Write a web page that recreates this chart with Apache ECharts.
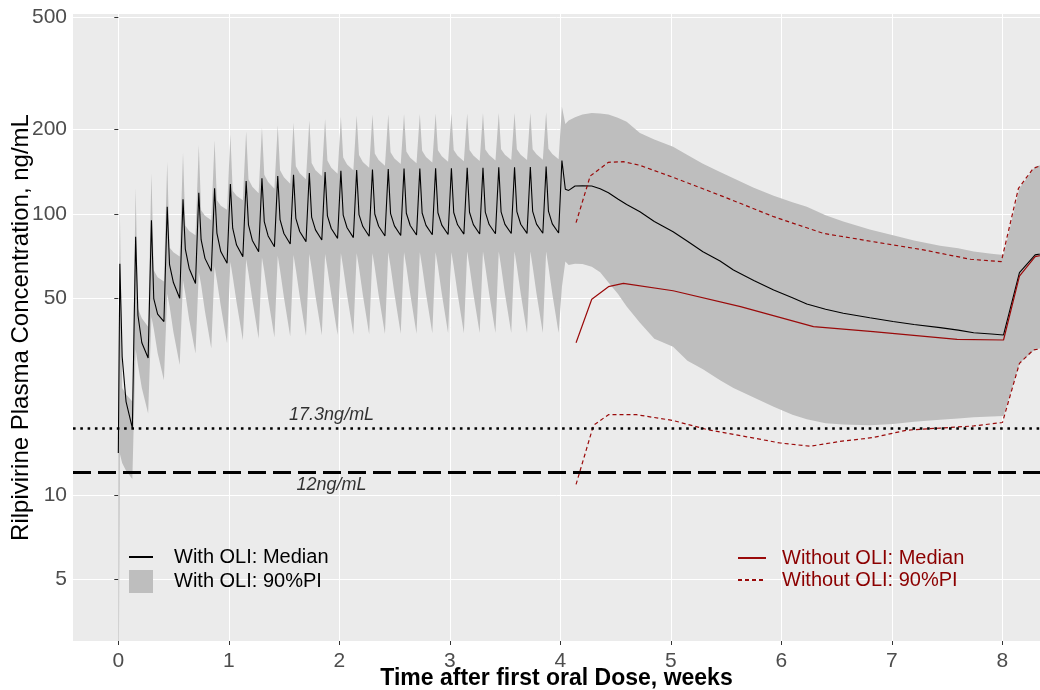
<!DOCTYPE html>
<html>
<head>
<meta charset="utf-8">
<script src="https://cdn.jsdelivr.net/npm/echarts@6/dist/echarts.min.js"></script>
<style>
html,body{margin:0;padding:0;background:#fff;}
#chart{width:1040px;height:690px;}
</style>
</head>
<body>
<div id="chart"></div>
<script>
// ---------- tick labels ----------
const xTicks = [0, 1, 2, 3, 4, 5, 6, 7, 8];
const yTicks = [5, 10, 50, 100, 200, 500];

// ---------- oral lead-in phase (daily doses, 28 cycles) ----------
const dosesPerWeek = 7;
const cycleOffsets = [0.014, 0.035, 0.07, 0.127]; // sample times within a daily cycle (weeks)
const start = { t: 0, med: 14.1, up: 24, lo: 1 };
// With OLI median: peak, early decline, late decline, trough
const medP  = [66.5, 83, 95, 106, 112.8, 119, 123.4, 127.9, 131, 134, 136.5, 138, 140, 141, 142.6, 143.5, 144, 144.5, 145, 145, 145.5, 145.5, 146, 146, 146.5, 146.5, 147, 147.4];
const medM1 = [31, 43.5, 50, 66, 75, 81, 85.5, 89, 91.5, 94, 95.5, 96.5, 97.5, 98.5, 99, 99.5, 100, 100.3, 100.6, 100.8, 101, 101.2, 101.4, 101.6, 101.8, 102, 102.2, 102.4];
const medM2 = [21.5, 34.8, 44, 57, 64, 69.5, 73.5, 77.5, 80.5, 83.5, 85.2, 86.6, 87.8, 88.8, 89.3, 90.2, 90.4, 90.7, 91, 91.1, 91.3, 91.5, 91.6, 91.7, 91.8, 91.9, 92, 92.2];
const medT  = [17.3, 30.7, 41.4, 50.1, 56.6, 62.5, 66.8, 70.5, 73.4, 76.5, 78.2, 79.7, 80.8, 81.9, 82.4, 83.3, 83.5, 83.8, 84.2, 84.3, 84.5, 84.8, 84.9, 85, 85.2, 85.3, 85.4, 85.6];
// With OLI 90% PI upper bound
const upP  = [103.9, 123.9, 140, 153.5, 165, 176, 183, 192, 197, 203, 207, 211, 215, 218, 222, 224, 226, 226, 227, 227, 228, 228, 228, 229, 229, 229, 229, 230];
const upM1 = [24, 46, 63, 76, 91, 103, 112, 121, 133, 138, 143, 148, 152, 155, 159, 162, 164, 166, 167, 168, 168.5, 169, 169, 169.5, 170, 170, 170, 170.5];
const upM2 = [22.8, 42.5, 59.5, 73, 87, 98.5, 107, 116, 125, 130, 135, 139.5, 143, 146, 150, 153, 155.5, 157.5, 158.5, 159.5, 160.5, 161, 161.5, 162, 162.5, 162.5, 163, 163.5];
const upT  = [21.5, 39.7, 57.5, 70.5, 84, 95, 103.5, 112, 118.5, 123, 128, 133, 136.5, 139, 143, 146, 148.5, 150.5, 151.5, 152.5, 153.5, 154, 154.5, 155, 155.5, 155.5, 156, 156.5];
// With OLI 90% PI lower bound
const loP  = [14, 33, 43, 52, 58, 62, 65, 67.5, 69, 70, 71, 71.5, 72, 72, 72.5, 72.5, 72.5, 73, 73, 73, 73, 73, 73.5, 73.5, 73.5, 73.5, 73.5, 73.5];
const loM1 = [13, 29, 39, 47, 52, 56, 58, 60, 61.5, 62.5, 63, 63.5, 64, 64, 64.5, 64.5, 64.5, 65, 65, 65, 65, 65, 65, 65, 65, 65, 65, 65];
const loM2 = [12.2, 24, 32, 38, 42, 45, 47, 48.5, 49.5, 50, 50.5, 51, 51, 51.5, 51.5, 51.5, 51.5, 52, 52, 52, 52, 52, 52, 52, 52, 52, 52, 52];
const loT  = [11.4, 19.5, 25.6, 29, 31.9, 33.2, 34.6, 35.5, 36, 36.3, 36.6, 36.8, 37, 37.1, 37.2, 37.3, 37.4, 37.5, 37.5, 37.6, 37.6, 37.6, 37.7, 37.7, 37.7, 37.7, 37.7, 37.7];

// ---------- With OLI after the last oral dose / injection ----------
const postT   = [4.014, 4.045, 4.075, 4.133, 4.2, 4.284, 4.36, 4.435, 4.52, 4.6, 4.72, 4.85, 5.02, 5.15, 5.29, 5.445, 5.566, 5.75, 5.93, 6.1, 6.23, 6.4, 6.56, 6.8, 7.01, 7.2, 7.436, 7.6, 7.74, 7.9, 8.01, 8.154, 8.296, 8.42];
const postMed = [155, 122.5, 121.3, 125.8, 126, 125.8, 123, 119, 113, 108, 101.8, 94, 86.5, 80, 73.4, 68, 63.2, 58, 53.6, 50.3, 47.8, 45.8, 44.3, 42.7, 41.4, 40.4, 39.4, 38.6, 37.8, 37.4, 37.1, 61.8, 71.5, 73];
const postUp  = [241, 209, 215, 221, 226, 229, 228, 226, 220, 213, 194, 184, 173.6, 162, 151, 141, 134, 124, 116, 110, 106, 99, 94, 88, 84, 80.5, 77, 75.5, 73.5, 72.2, 71.5, 123.4, 147.4, 152];
const postLo  = [55, 67.7, 65.8, 66.5, 66.3, 64.9, 62, 57, 52, 46.8, 41, 36, 33.7, 30, 28, 25.6, 24.0, 22.2, 20.6, 19.3, 18.6, 18.0, 17.8, 17.7, 17.9, 18.2, 18.5, 18.7, 18.9, 19.0, 19.1, 29.4, 33.0, 33.5];

// ---------- Without OLI ----------
const woMedT = [4.142, 4.284, 4.435, 4.57, 5.02, 5.63, 6.29, 6.83, 7.59, 8.01, 8.154, 8.296, 8.42];
const woMed  = [34.8, 49.7, 55.1, 56.6, 53.3, 46.8, 39.7, 38.1, 35.8, 35.6, 60.1, 70.5, 72];
const woUpT  = [4.142, 4.27, 4.435, 4.57, 4.72, 5.02, 5.475, 5.93, 6.38, 6.83, 7.285, 7.71, 7.99, 8.145, 8.28, 8.42];
const woUp   = [93.1, 136.5, 152.7, 153.5, 149, 135, 115.3, 97.8, 85.3, 79.7, 74.5, 69, 67.7, 123.4, 145.4, 152];
const woLoT  = [4.142, 4.30, 4.435, 4.69, 5.02, 5.325, 5.687, 5.99, 6.26, 6.53, 6.83, 7.135, 7.436, 7.74, 8.0, 8.154, 8.28, 8.42];
const woLo   = [10.9, 17.7, 19.3, 19.3, 18.4, 17.1, 16.1, 15.3, 14.9, 15.5, 16.0, 17.0, 17.3, 17.6, 18.1, 29.4, 32.8, 33.5];

// ---------- reference thresholds ----------
const thresholdValues = [17.3, 12];
const thresholdLabels = ['17.3ng/mL', '12ng/mL'];
const annotX = 1.93;

// ---------- assemble With OLI rows [t, median, lower, upper] ----------
const withRows = [[start.t, start.med, start.lo, start.up]];
const medParts = [medP, medM1, medM2, medT];
const upParts = [upP, upM1, upM2, upT];
const loParts = [loP, loM1, loM2, loT];
for (let k = 0; k < medP.length; k++) {
  for (let j = 0; j < cycleOffsets.length; j++) {
    withRows.push([k / dosesPerWeek + cycleOffsets[j], medParts[j][k], loParts[j][k], upParts[j][k]]);
  }
}
for (let i = 0; i < postT.length; i++) withRows.push([postT[i], postMed[i], postLo[i], postUp[i]]);

const zip = (a, b) => a.map((v, i) => [v, b[i]]);
const RED = '#9A0A0A';
const FONT = '"Liberation Sans", Arial, sans-serif';
const hideSymbol = { opacity: 0 };

const chart = echarts.init(document.getElementById('chart'), null, { renderer: 'canvas' });
chart.setOption({
  animation: false,
  backgroundColor: '#ffffff',
  textStyle: { fontFamily: FONT },
  grid: { left: 73, right: 0, top: 14, bottom: 49, show: true, backgroundColor: '#EBEBEB', borderWidth: 0,
          containLabel: false, outerBoundsMode: 'none' },
  xAxis: {
    type: 'value', min: -0.41, max: 8.34,
    name: 'Time after first oral Dose, weeks', nameLocation: 'middle', nameGap: 26, nameMoveOverlap: false,
    nameTextStyle: { fontSize: 23, fontWeight: 'bold', color: '#000', fontFamily: FONT },
    axisLine: { show: false },
    axisTick: { show: true, length: 4, customValues: xTicks, lineStyle: { color: '#333333', width: 1 } },
    axisLabel: { customValues: xTicks, fontSize: 21, color: '#4D4D4D', margin: 10, fontFamily: FONT },
    splitLine: { show: true, lineStyle: { color: '#FFFFFF', width: 1 } }
  },
  yAxis: {
    type: 'log', logBase: 10, min: 3.02, max: 515,
    name: 'Rilpivirine Plasma Concentration, ng/mL', nameLocation: 'middle', nameGap: 40, nameMoveOverlap: false,
    nameTextStyle: { fontSize: 24, color: '#000', fontFamily: FONT },
    axisLine: { show: false },
    axisTick: { show: true, length: 4, customValues: yTicks, lineStyle: { color: '#333333', width: 1 } },
    axisLabel: { customValues: yTicks, fontSize: 21, color: '#4D4D4D', margin: 6, fontFamily: FONT },
    splitLine: { show: true, lineStyle: { color: '#FFFFFF', width: 1 } },
    minorSplitLine: { show: false }
  },
  legend: [
    {
      orient: 'vertical', left: 128, top: 547, padding: 0, itemWidth: 24, itemHeight: 23, itemGap: 3,
      selectedMode: false,
      textStyle: { fontSize: 20, color: '#000', fontFamily: FONT, padding: [0, 0, 0, 16] },
      data: [
        { name: 'With OLI: Median', itemStyle: hideSymbol },
        { name: 'With OLI: 90%PI', icon: 'rect', itemStyle: { color: '#BEBEBE' } }
      ]
    },
    {
      orient: 'vertical', left: 737, top: 548, padding: 0, itemWidth: 28, itemHeight: 21, itemGap: 2,
      selectedMode: false,
      textStyle: { fontSize: 20, color: '#8B0000', fontFamily: FONT, padding: [0, 0, 0, 11] },
      data: [{ name: 'Without OLI: Median', itemStyle: hideSymbol }, { name: 'Without OLI: 90%PI', itemStyle: hideSymbol }]
    }
  ],
  series: [
    {
      name: 'With OLI: 90%PI', type: 'custom', coordinateSystem: 'cartesian2d',
      clip: true, silent: true, z: 1,
      itemStyle: { color: '#BEBEBE' },
      encode: { x: 0, y: 1 },
      data: withRows,
      renderItem: function (params, api) {
        if (params.dataIndexInside !== 0) return null;
        const n = params.dataInsideLength;
        const pts = [];
        for (let i = 0; i < n; i++) pts.push(api.coord([api.value(0, i), api.value(3, i)]));
        for (let i = n - 1; i >= 0; i--) pts.push(api.coord([api.value(0, i), api.value(2, i)]));
        return { type: 'polygon', shape: { points: pts }, style: { fill: '#BEBEBE', stroke: null } };
      }
    },
    {
      name: 'With OLI: Median', type: 'line', symbol: 'none', z: 3, silent: true,
      data: withRows.map(r => [r[0], r[1]]),
      lineStyle: { color: '#000000', width: 1.1 },
      itemStyle: { color: '#000000' },
      markLine: {
        silent: true, symbol: 'none', label: { show: false },
        data: [
          { yAxis: thresholdValues[0], lineStyle: { color: '#000', width: 2.6, type: [2.6, 4.7], cap: 'butt' } },
          { yAxis: thresholdValues[1], lineStyle: { color: '#000', width: 3, type: [18, 7], cap: 'butt' } }
        ]
      }
    },
    {
      name: 'Without OLI: Median', type: 'line', symbol: 'none', z: 4, silent: true,
      data: zip(woMedT, woMed),
      lineStyle: { color: RED, width: 1.2 }, itemStyle: { color: RED }
    },
    {
      name: 'Without OLI: 90%PI', type: 'line', symbol: 'none', z: 4, silent: true,
      data: zip(woUpT, woUp),
      lineStyle: { color: RED, width: 1.2, type: [4, 3] }, itemStyle: { color: RED }
    },
    {
      name: 'Without OLI: 90%PI', type: 'line', symbol: 'none', z: 4, silent: true,
      data: zip(woLoT, woLo),
      lineStyle: { color: RED, width: 1.2, type: [4, 3] }, itemStyle: { color: RED }
    },
    {
      name: 'thresholdText', type: 'scatter', symbolSize: 0, silent: true, z: 5,
      data: [
        { value: [annotX, thresholdValues[0]], label: { position: 'top', distance: 4, formatter: thresholdLabels[0] } },
        { value: [annotX, thresholdValues[1]], label: { position: 'bottom', distance: 3, formatter: thresholdLabels[1] } }
      ],
      label: { show: true, fontSize: 18, fontStyle: 'italic', color: '#000', fontFamily: FONT }
    }
  ]
});
</script>
</body>
</html>
